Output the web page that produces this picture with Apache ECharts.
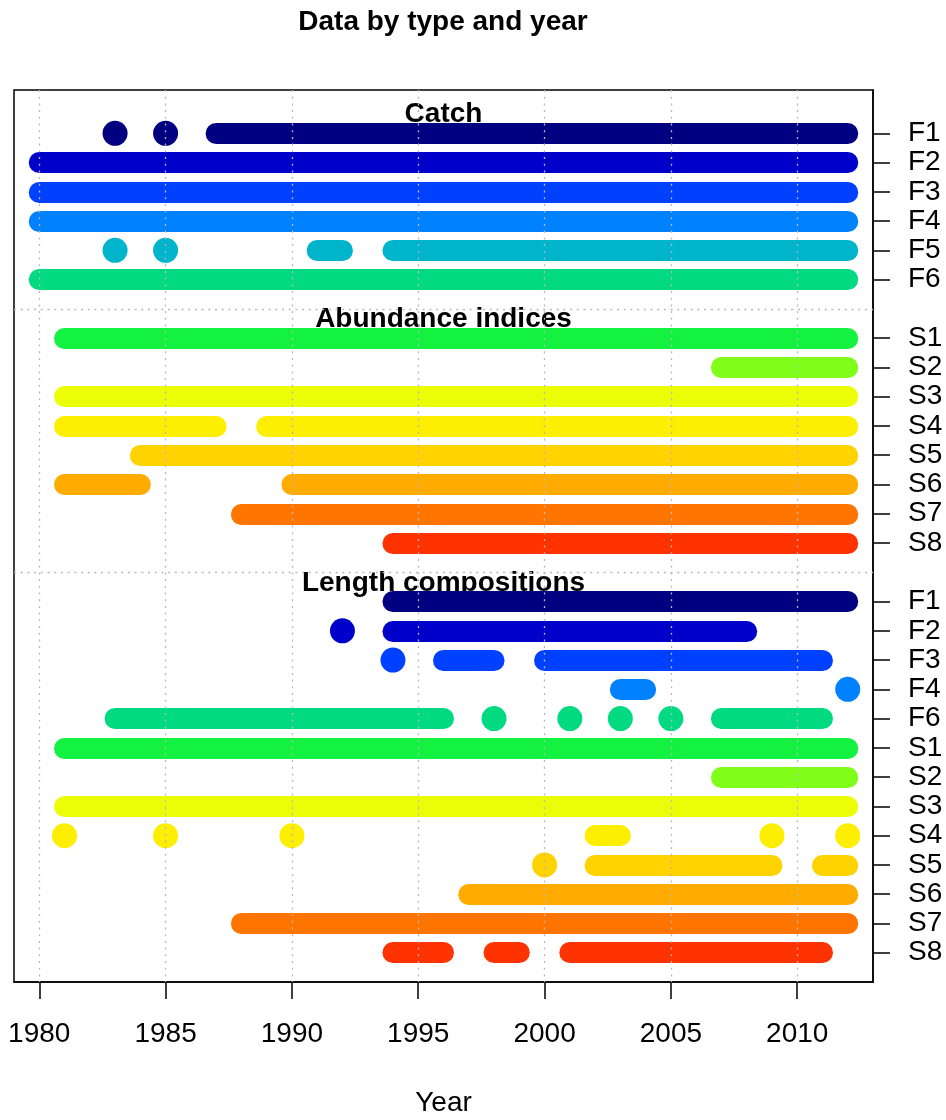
<!DOCTYPE html>
<html>
<head>
<meta charset="utf-8">
<title>Data by type and year</title>
<script src="https://cdn.jsdelivr.net/npm/echarts@6/dist/echarts.min.js"></script>
<style>
  html, body { margin: 0; padding: 0; background: #fff; }
  #chart { width: 946px; height: 1120px; }
</style>
</head>
<body>
<div id="chart"></div>
<script>
// section titles, in drawing order
var sectionTitles = ['Catch', 'Abundance indices', 'Length compositions'];

// fleets per section, and the year runs of each fleet ([first, last]; single years have first == last)
var catchFleets = ['F1', 'F2', 'F3', 'F4', 'F5', 'F6'];
var catchRuns = [
    [[1983, 1983], [1985, 1985], [1987, 2012]],
    [[1980, 2012]],
    [[1980, 2012]],
    [[1980, 2012]],
    [[1983, 1983], [1985, 1985], [1991, 1992], [1994, 2012]],
    [[1980, 2012]]
];

var indexFleets = ['S1', 'S2', 'S3', 'S4', 'S5', 'S6', 'S7', 'S8'];
var indexRuns = [
    [[1981, 2012]],
    [[2007, 2012]],
    [[1981, 2012]],
    [[1981, 1987], [1989, 2012]],
    [[1984, 2012]],
    [[1981, 1984], [1990, 2012]],
    [[1988, 2012]],
    [[1994, 2012]]
];

var lengthFleets = ['F1', 'F2', 'F3', 'F4', 'F6', 'S1', 'S2', 'S3', 'S4', 'S5', 'S6', 'S7', 'S8'];
var lengthRuns = [
    [[1994, 2012]],
    [[1992, 1992], [1994, 2008]],
    [[1994, 1994], [1996, 1998], [2000, 2011]],
    [[2003, 2004], [2012, 2012]],
    [[1983, 1996], [1998, 1998], [2001, 2001], [2003, 2003], [2005, 2005], [2007, 2011]],
    [[1981, 2012]],
    [[2007, 2012]],
    [[1981, 2012]],
    [[1981, 1981], [1985, 1985], [1990, 1990], [2002, 2003], [2009, 2009], [2012, 2012]],
    [[2000, 2000], [2002, 2009], [2011, 2012]],
    [[1997, 2012]],
    [[1988, 2012]],
    [[1994, 1996], [1998, 1999], [2001, 2011]]
];

var yearTicks = [1980, 1985, 1990, 1995, 2000, 2005, 2010];

// colours (rich.colors.short style palette)
var fleetColors = {
    F1: '#000081', F2: '#0000CB', F3: '#0041FF', F4: '#0081FF', F5: '#00B4CB', F6: '#02DA81',
    S1: '#13F241', S2: '#80FE1A', S3: '#ECFD08', S4: '#FDEE02', S5: '#FFD300', S6: '#FFAB00',
    S7: '#FF7500', S8: '#FF3300'
};

var FONT = '"Liberation Sans", Arial, sans-serif';

// build rows: one title row per section then one row per fleet
var sections = [
    { fleets: catchFleets, runs: catchRuns },
    { fleets: indexFleets, runs: indexRuns },
    { fleets: lengthFleets, runs: lengthRuns }
];
var rowLabels = {};
var labelRows = [];
var titleRows = [];
var barData = [];
var dotData = [];
var row = 0;
sections.forEach(function (sec, si) {
    titleRows.push({ value: [1996, row], name: sectionTitles[si] });
    row++;
    sec.fleets.forEach(function (f, fi) {
        rowLabels[row] = f;
        labelRows.push(row);
        sec.runs[fi].forEach(function (r) {
            if (r[0] === r[1]) {
                dotData.push({ value: [r[0], row], itemStyle: { color: fleetColors[f] } });
            } else {
                barData.push({ coords: [[r[0], row], [r[1], row]], lineStyle: { color: fleetColors[f] } });
            }
        });
        row++;
    });
});
var separatorRows = titleRows.slice(1).map(function (t) { return t.value[1]; });

var chart = echarts.init(document.getElementById('chart'));
chart.setOption({
    animation: false,
    backgroundColor: '#fff',
    title: {
        text: 'Data by type and year',
        left: 443,
        top: 8,
        padding: 0,
        textAlign: 'center',
        textStyle: { fontFamily: FONT, fontSize: 28, fontWeight: 'bold', color: '#000' }
    },
    grid: {
        left: 14, right: 73, top: 90, bottom: 138,
        show: true, borderColor: '#000', borderWidth: 1.5,
        outerBoundsMode: 'none'
    },
    xAxis: {
        type: 'value',
        min: 1979,
        max: 2013,
        name: 'Year',
        nameLocation: 'middle',
        nameGap: 107,
        nameTextStyle: { fontFamily: FONT, fontSize: 28, color: '#000' },
        axisLine: { show: true, onZero: false, lineStyle: { color: '#000', width: 1.5 } },
        axisTick: { show: true, length: 17, customValues: yearTicks, lineStyle: { color: '#000', width: 1.5 } },
        axisLabel: {
            customValues: yearTicks,
            margin: 38,
            fontFamily: FONT, fontSize: 28, color: '#000',
            formatter: function (v) { return String(v); }
        },
        splitLine: { show: false }
    },
    yAxis: {
        type: 'value',
        position: 'right',
        inverse: true,
        min: -0.48,
        max: 30,
        axisLine: { show: true, onZero: false, lineStyle: { color: '#000', width: 1.5 } },
        axisTick: { show: true, length: 17, customValues: labelRows, lineStyle: { color: '#000', width: 1.5 } },
        axisLabel: {
            customValues: labelRows,
            margin: 35,
            fontFamily: FONT, fontSize: 28, color: '#000',
            formatter: function (v) { return rowLabels[v] || ''; }
        },
        splitLine: { show: false }
    },
    series: [
        {
            // grid lines and section titles
            type: 'scatter',
            z: 1,
            silent: true,
            symbolSize: 1,
            itemStyle: { color: 'rgba(0,0,0,0)', opacity: 1 },
            data: titleRows,
            label: {
                show: true,
                position: 'bottom',
                distance: -4,
                opacity: 1,
                formatter: function (p) { return p.name; },
                fontFamily: FONT, fontSize: 28, fontWeight: 'bold', color: '#000'
            },
            labelLayout: { hideOverlap: false },
            markLine: {
                silent: true,
                symbol: ['none', 'none'],
                label: { show: false },
                lineStyle: { color: '#b8b8b8', width: 1.3, type: [2, 4.7] },
                data: yearTicks.map(function (y) { return { xAxis: y }; })
                    .concat(separatorRows.map(function (r) { return { yAxis: r }; }))
            }
        },
        {
            type: 'lines',
            coordinateSystem: 'cartesian2d',
            z: 2,
            silent: true,
            polyline: false,
            lineStyle: { width: 21, cap: 'round', opacity: 1, curveness: 0 },
            data: barData
        },
        {
            type: 'scatter',
            z: 3,
            silent: true,
            symbol: 'circle',
            symbolSize: 25,
            itemStyle: { opacity: 1 },
            data: dotData
        }
    ]
});
</script>
</body>
</html>
